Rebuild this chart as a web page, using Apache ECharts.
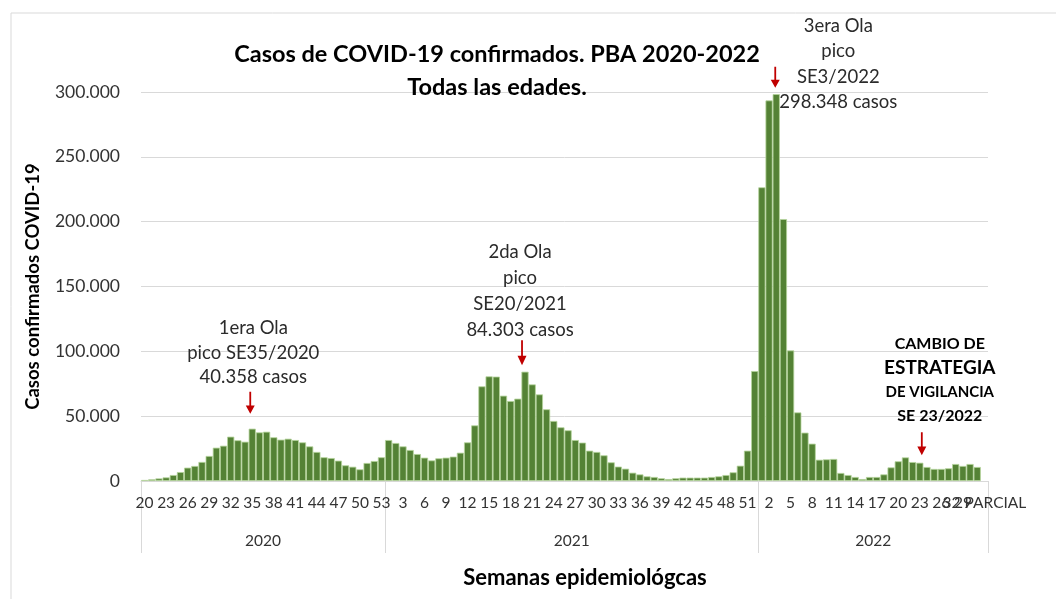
<!DOCTYPE html>
<html>
<head>
<meta charset="utf-8">
<title>Casos de COVID-19 confirmados. PBA 2020-2022</title>
<script src="https://cdn.jsdelivr.net/npm/echarts@6.0.0/dist/echarts.min.js"></script>
<style>
  html, body { margin: 0; padding: 0; background: #fff; }
  #chart { width: 1056px; height: 599px; }
</style>
</head>
<body>
<div id="chart"></div>
<script>
// años y semanas epidemiologicas que cubre cada uno
var years = ['2020', '2021', '2022'];
var firstWeek = [20, 1, 1];
var lastWeek = [53, 52, 32];

// casos confirmados por semana
var casos2020 = [800, 1300, 2000, 2800, 4600, 6900, 10300, 11600, 14700, 19300,
  25700, 27200, 34200, 31400, 30300, 40358, 37500, 38000, 33700, 31900,
  32600, 31600, 29800, 26700, 22400, 18300, 17700, 15700, 12100, 11000,
  9000, 13900, 15400, 18300];
var casos2021 = [31600, 29300, 26700, 23900, 20800, 18000, 15900, 17500, 18000, 18800,
  21800, 29800, 42900, 73000, 80700, 80500, 65800, 61700, 63500, 84303,
  74500, 66800, 55300, 46300, 41400, 39100, 31600, 29600, 23400, 22400,
  19800, 14400, 11100, 9500, 6400, 5100, 3600, 3100, 2100, 1500,
  2100, 2600, 2600, 2600, 2600, 3100, 3600, 4600, 6700, 11800,
  23400, 84800];
var casos2022 = [226500, 293500, 298348, 202000, 100700, 52900, 37300, 28800, 16400, 16700,
  17000, 6200, 4600, 3100, 1500, 3100, 3100, 5100, 10500, 15200,
  18200, 14600, 14100, 10800, 9300, 9300, 9800, 13100, 11600, 13100,
  10800, null];

// eje y
var yMax = 300000;
var yStep = 50000;

function miles(v) {
  return String(v).replace(/\B(?=(\d{3})+(?!\d))/g, '.');
}

// armar categorias
var semanas = [];
var bordes = [0];
for (var y = 0; y < years.length; y++) {
  for (var w = firstWeek[y]; w <= lastWeek[y]; w++) {
    semanas.push(String(w));
  }
  bordes.push(semanas.length);
}
var ultima = semanas.length - 1;
semanas[ultima] = lastWeek[2] + ' PARCIAL';
var casos = casos2020.concat(casos2021, casos2022);

var medios = [];
for (var k = 0; k < years.length; k++) {
  medios.push((bordes[k] + bordes[k + 1]) / 2);
}

// posicion de cada semana dentro de la serie
function idx(anio, semana) {
  var y = years.indexOf(anio);
  return bordes[y] + semana - firstWeek[y];
}

var pico1 = idx('2020', 35);
var pico2 = idx('2021', 20);
var pico3 = idx('2022', 3);
var cambio = idx('2022', 23);

var arrow = 'path://M4,0 L6,0 L6,15 L10,15 L5,24 L0,15 L4,15 Z';
var txt = { color: '#2b2b2b', fontFamily: 'Lato', fontSize: 18.5 };
var tickFont = { margin: 14, color: '#333', fontFamily: 'Lato', fontSize: 15.5 };

function flecha(i, dx, dy, h) {
  return {
    coord: [i, casos[i]],
    symbol: arrow,
    symbolKeepAspect: false,
    symbolSize: [9, h],
    symbolOffset: [dx, dy],
    itemStyle: { color: '#c00000' },
    label: { show: false }
  };
}

function texto(i, dx, dy, str, lh) {
  return {
    coord: [i, casos[i]],
    symbol: 'circle',
    symbolSize: 1,
    itemStyle: { color: 'rgba(0,0,0,0)' },
    label: {
      show: true,
      position: 'inside',
      offset: [dx, dy],
      formatter: str,
      align: 'center',
      color: txt.color,
      fontFamily: txt.fontFamily,
      fontSize: txt.fontSize,
      lineHeight: lh
    }
  };
}

var chart = echarts.init(document.getElementById('chart'));

chart.setOption({
  animation: false,
  backgroundColor: '#fff',
  graphic: [{
    type: 'rect',
    shape: { x: 11, y: 13, width: 1100, height: 640 },
    style: { fill: 'none', stroke: '#d9d9d9', lineWidth: 1 },
    silent: true
  }],
  title: [{
    text: 'Casos de COVID-19 confirmados. PBA 2020-2022\nTodas las edades.',
    left: 492,
    top: 33,
    textAlign: 'center',
    textStyle: { fontFamily: 'Lato', fontWeight: 'bold', fontSize: 23.5, lineHeight: 33, color: '#000' }
  }, {
    text: 'Semanas epidemiológcas',
    left: 580,
    top: 562,
    textAlign: 'center',
    textStyle: { fontFamily: 'Lato', fontWeight: 'bold', fontSize: 22, color: '#000' }
  }],
  grid: {
    left: 141,
    right: 68,
    top: 92,
    bottom: 118,
    outerBoundsMode: 'none'
  },
  xAxis: [{
    // semanas cada 3
    type: 'category',
    data: semanas,
    axisTick: { show: false },
    axisLine: { lineStyle: { color: '#d9d9d9' } },
    axisLabel: Object.assign({
      interval: function (i) { return i % 3 === 0 && i !== ultima; }
    }, tickFont)
  }, {
    // separadores y etiquetas de año
    type: 'value',
    min: 0,
    max: semanas.length,
    position: 'bottom',
    axisLine: { show: false },
    splitLine: { show: false },
    axisTick: {
      show: true,
      customValues: bordes,
      length: 72,
      lineStyle: { color: '#d9d9d9' }
    },
    axisLabel: {
      customValues: medios,
      margin: 52,
      color: '#333',
      fontFamily: 'Lato',
      fontSize: 15.5,
      formatter: function (v) {
        return years[medios.indexOf(v)] || '';
      }
    }
  }, {
    // ultima semana (parcial), se superpone como en el original
    type: 'category',
    data: semanas,
    position: 'bottom',
    axisLine: { show: false },
    axisTick: { show: false },
    axisLabel: Object.assign({
      interval: function (i) { return i === ultima; },
      showMaxLabel: true
    }, tickFont)
  }],
  yAxis: {
    type: 'value',
    min: 0,
    max: yMax,
    interval: yStep,
    name: 'Casos confirmados COVID-19',
    nameLocation: 'middle',
    nameGap: 98,
    nameTextStyle: { fontFamily: 'Lato', fontWeight: 'bold', fontSize: 18.5, color: '#000' },
    axisLine: { show: false },
    axisTick: { show: false },
    splitLine: { lineStyle: { color: '#d9d9d9' } },
    axisLabel: {
      margin: 21,
      color: '#333',
      fontFamily: 'Lato',
      fontSize: 17.5,
      formatter: miles
    }
  },
  series: [{
    name: 'Casos',
    type: 'bar',
    data: casos,
    barCategoryGap: '0%',
    itemStyle: { color: '#548235', borderColor: '#b5d49c', borderWidth: 0.8 },
    markPoint: {
      silent: true,
      data: [
        flecha(pico1, -2, -26, 22),
        texto(pico1, 1, -76, '1era Ola\npico SE35/2020\n' + miles(casos[pico1]) + ' casos', 24.5),
        flecha(pico2, -3, -19, 25),
        texto(pico2, -5, -81, '2da Ola\npico\nSE20/2021\n' + miles(casos[pico2]) + ' casos', 26),
        flecha(pico3, -1, -17, 21),
        texto(pico3, 62, -30, '3era Ola\npico\nSE3/2022\n' + miles(casos[pico3]) + ' casos', 25.3),
        flecha(cambio, 2, -19, 23),
        {
          coord: [cambio, casos[cambio]],
          symbol: 'circle',
          symbolSize: 1,
          itemStyle: { color: 'rgba(0,0,0,0)' },
          label: {
            show: true,
            position: 'inside',
            offset: [20, -83],
            align: 'center',
            formatter: '{a|CAMBIO DE}\n{b|ESTRATEGIA}\n{c|DE VIGILANCIA}\n{a|SE 23/2022}',
            rich: {
              a: { fontFamily: 'Lato', fontWeight: 'bold', fontSize: 16, lineHeight: 24, color: '#000' },
              b: { fontFamily: 'Lato', fontWeight: 'bold', fontSize: 19, lineHeight: 24, color: '#000' },
              c: { fontFamily: 'Lato', fontWeight: 'bold', fontSize: 15, lineHeight: 24, color: '#000' }
            }
          }
        }
      ]
    }
  }]
});
</script>
</body>
</html>
